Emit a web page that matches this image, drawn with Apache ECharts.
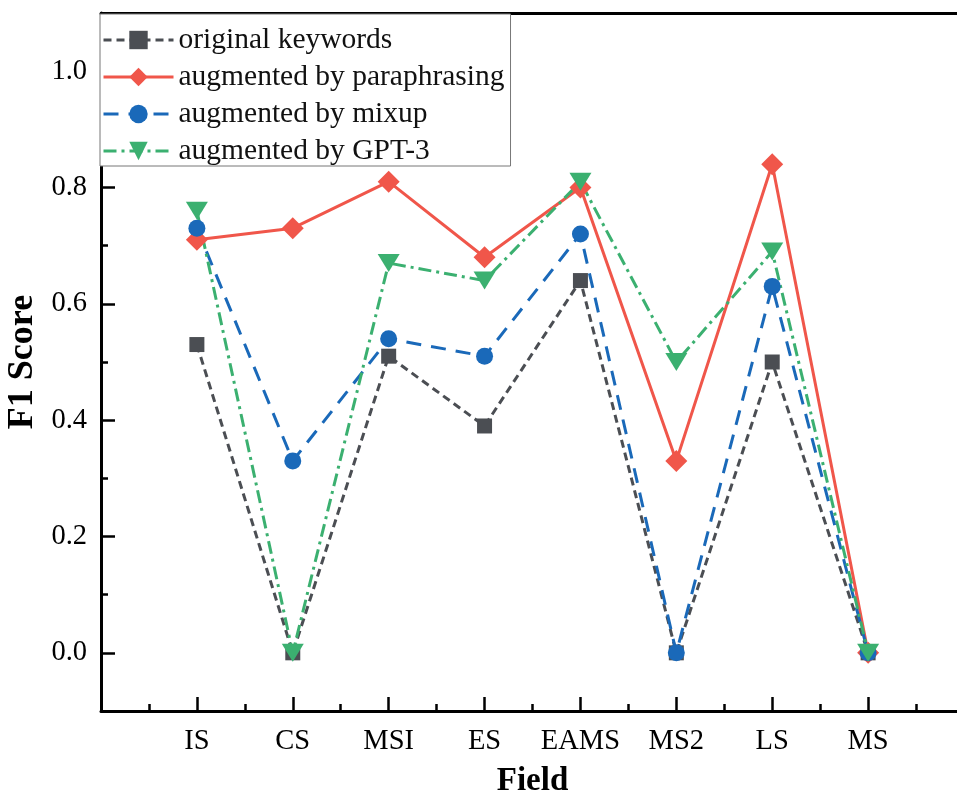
<!DOCTYPE html>
<html>
<head>
<meta charset="utf-8">
<script src="https://cdn.jsdelivr.net/npm/echarts@6/dist/echarts.min.js"></script>
<style>
html,body{margin:0;padding:0;background:#fff;}
#chart{width:957px;height:794px;}
</style>
</head>
<body>
<div id="chart"></div>
<script>
const categories = ['IS', 'CS', 'MSI', 'ES', 'EAMS', 'MS2', 'LS', 'MS'];
const original = [0.53, 0.00, 0.51, 0.39, 0.64, 0.00, 0.50, 0.00];
const paraphrasing = [0.71, 0.73, 0.81, 0.68, 0.80, 0.33, 0.84, 0.00];
const mixup = [0.73, 0.33, 0.54, 0.51, 0.72, 0.00, 0.63, 0.00];
const gpt3 = [0.76, 0.00, 0.67, 0.64, 0.81, 0.50, 0.69, 0.00];
const seriesNames = ['original keywords', 'augmented by paraphrasing', 'augmented by mixup', 'augmented by GPT-3'];

const FONT = '"Liberation Serif", "Times New Roman", serif';
const toPairs = arr => arr.map((v, i) => [i + 1, v]);

const chart = echarts.init(document.getElementById('chart'), null, {renderer: 'canvas'});

function mkSeries(name, data, color, symbol, size, lineType, rotate) {
  return {
    name: name,
    type: 'line',
    data: toPairs(data),
    symbol: symbol,
    symbolSize: size,
    symbolRotate: rotate || 0,
    showAllSymbol: true,
    itemStyle: {color: color, opacity: 1},
    lineStyle: {color: color, width: 3, type: lineType},
    emphasis: {disabled: true},
    animation: false,
    clip: false
  };
}

const option = {
  backgroundColor: '#fff',
  animation: false,
  grid: {left: 101, right: -7, top: 13, bottom: 83, containLabel: false, outerBoundsMode: 'none'},
  legend: {
    orient: 'vertical',
    left: 100, top: 14,
    data: seriesNames,
    backgroundColor: '#fff',
    borderColor: '#777',
    borderWidth: 1,
    borderRadius: 0,
    padding: [11, 6, 0, 2],
    itemGap: 7,
    itemWidth: 70,
    itemHeight: 23,
    lineStyle: {width: 3},
    textStyle: {fontFamily: FONT, fontSize: 29.5, color: '#111', lineHeight: 30},
    selectedMode: false,
    z: 10
  },
  xAxis: [{
    type: 'value',
    min: 0, max: 9, interval: 1,
    name: 'Field',
    nameLocation: 'middle',
    nameGap: 54,
    nameTextStyle: {fontFamily: FONT, fontSize: 33, fontWeight: 'bold', color: '#000'},
    axisLine: {show: true, onZero: false, lineStyle: {color: '#000', width: 3}},
    axisTick: {show: true, inside: true, length: 14, lineStyle: {color: '#000', width: 2.5}},
    minorTick: {show: true, splitNumber: 2, length: 7, lineStyle: {color: '#000', width: 2.5}},
    axisLabel: {
      fontFamily: FONT, fontSize: 28.5, color: '#000', margin: 16,
      formatter: v => (Number.isInteger(v) && v >= 1 && v <= categories.length) ? categories[v - 1] : ''
    },
    splitLine: {show: false},
    minorSplitLine: {show: false}
  }, {
    type: 'value',
    position: 'top',
    min: 0, max: 9,
    axisLine: {show: true, onZero: false, lineStyle: {color: '#000', width: 3}},
    axisTick: {show: false},
    axisLabel: {show: false},
    splitLine: {show: false}
  }],
  yAxis: [{
    type: 'value',
    min: -0.1, max: 1.1,
    splitNumber: 6,
    name: 'F1 Score',
    nameLocation: 'middle',
    nameGap: 54,
    nameRotate: 90,
    nameTextStyle: {fontFamily: FONT, fontSize: 36, fontWeight: 'bold', color: '#000'},
    axisLine: {show: true, onZero: false, lineStyle: {color: '#000', width: 3}},
    axisTick: {show: true, inside: true, length: 14, lineStyle: {color: '#000', width: 2.5}},
    axisLabel: {
      fontFamily: FONT, fontSize: 28.5, color: '#000', margin: 14,
      formatter: v => (v < -0.05 || v > 1.05) ? '' : v.toFixed(1)
    },
    splitLine: {show: false}
  }, {
    type: 'value',
    position: 'left',
    min: -0.1, max: 1.1, interval: 0.2,
    axisLine: {show: false, onZero: false},
    axisTick: {show: true, inside: true, length: 7, lineStyle: {color: '#000', width: 2.5}},
    axisLabel: {show: false},
    splitLine: {show: false}
  }],
  series: [
    mkSeries(seriesNames[0], original, '#4b4e53', 'rect', 15, [8, 5]),
    mkSeries(seriesNames[1], paraphrasing, '#f0564a', 'diamond', 22, 'solid'),
    mkSeries(seriesNames[2], mixup, '#1a69b9', 'circle', 17, [15, 10]),
    mkSeries(seriesNames[3], gpt3, '#3bb070', 'triangle', [22, 18], [13, 5, 3, 5], 180)
  ]
};
chart.setOption(option);
</script>
</body>
</html>
